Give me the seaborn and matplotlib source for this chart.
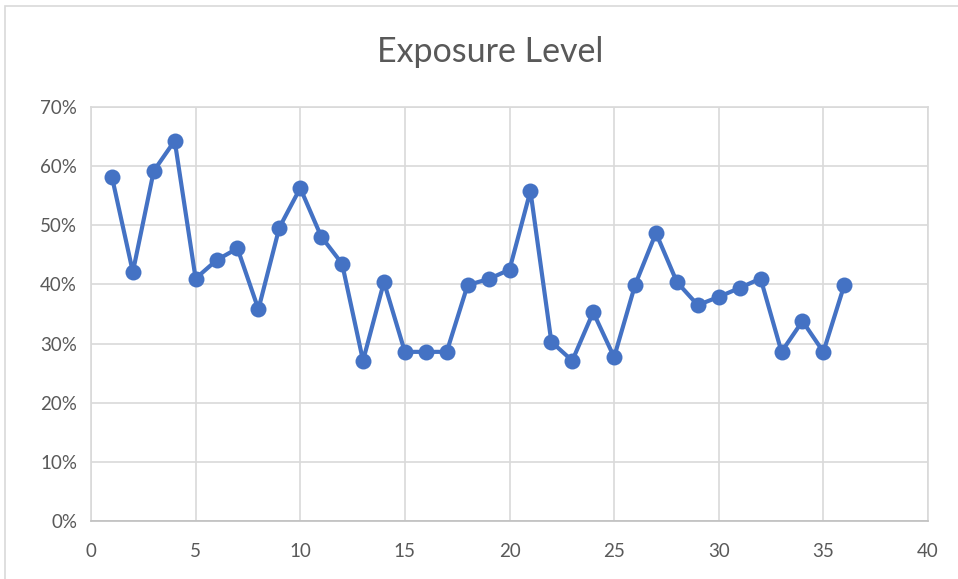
import numpy as np
import pandas as pd
import matplotlib
matplotlib.use("Agg")
import matplotlib.pyplot as plt
from matplotlib.ticker import PercentFormatter
from matplotlib.patches import Rectangle
import seaborn as sns

# datos
samples = list(range(1, 37))
exposure = [58.2, 42.1, 59.2, 64.3, 41.0, 44.1, 46.1, 35.8, 49.6, 56.3,
            48.1, 43.5, 27.1, 40.4, 28.6, 28.6, 28.6, 39.9, 40.9, 42.5,
            55.8, 30.3, 27.1, 35.3, 27.7, 39.9, 48.7, 40.4, 36.5, 37.9,
            39.4, 41.0, 28.6, 33.8, 28.6, 39.9]
x_ticks = [0, 5, 10, 15, 20, 25, 30, 35, 40]
y_ticks = [0, 10, 20, 30, 40, 50, 60, 70]

df = pd.DataFrame({'sample': samples, 'exposure': exposure})

sns.set_theme(style='white')
plt.rcParams['font.family'] = ['Lato', 'DejaVu Sans']

grey_txt = '#595959'
grid_col = '#d9d9d9'
blue = '#4472C4'

fig = plt.figure(figsize=(9.58, 5.79), dpi=100)
ax = fig.add_axes([91/958, 1-521/579, (928-91)/958, (521-107)/579])

sns.lineplot(data=df, x='sample', y='exposure', ax=ax, color=blue,
             linewidth=3.0, marker='o', markersize=11.5, markeredgewidth=0,
             zorder=3)

ax.set_xlim(0, 40)
ax.set_ylim(0, 70)
ax.set_xticks(x_ticks)
ax.set_yticks(y_ticks)
ax.yaxis.set_major_formatter(PercentFormatter(decimals=0))
ax.grid(True, color=grid_col, linewidth=1.2)
for s in ax.spines.values():
    s.set_color(grid_col)
    s.set_linewidth(1.2)
ax.spines['bottom'].set_color('#bfbfbf')
ax.tick_params(axis='both', colors=grey_txt, labelsize=13.5, length=0)
ax.tick_params(axis='x', pad=16)
ax.tick_params(axis='y', pad=10)
ax.set_xlabel('')
ax.set_ylabel('')

fig.text(490/958, 1-52/579, 'Exposure Level', ha='center', va='center',
         fontsize=24.5, color=grey_txt)

# borde del area del grafico
fig.patches.append(Rectangle((5/958, -0.05), 1.0, 1-6/579+0.05,
                             transform=fig.transFigure, fill=False,
                             edgecolor='#d9d9d9', linewidth=1.2))

plt.savefig('out.png', dpi=100)
